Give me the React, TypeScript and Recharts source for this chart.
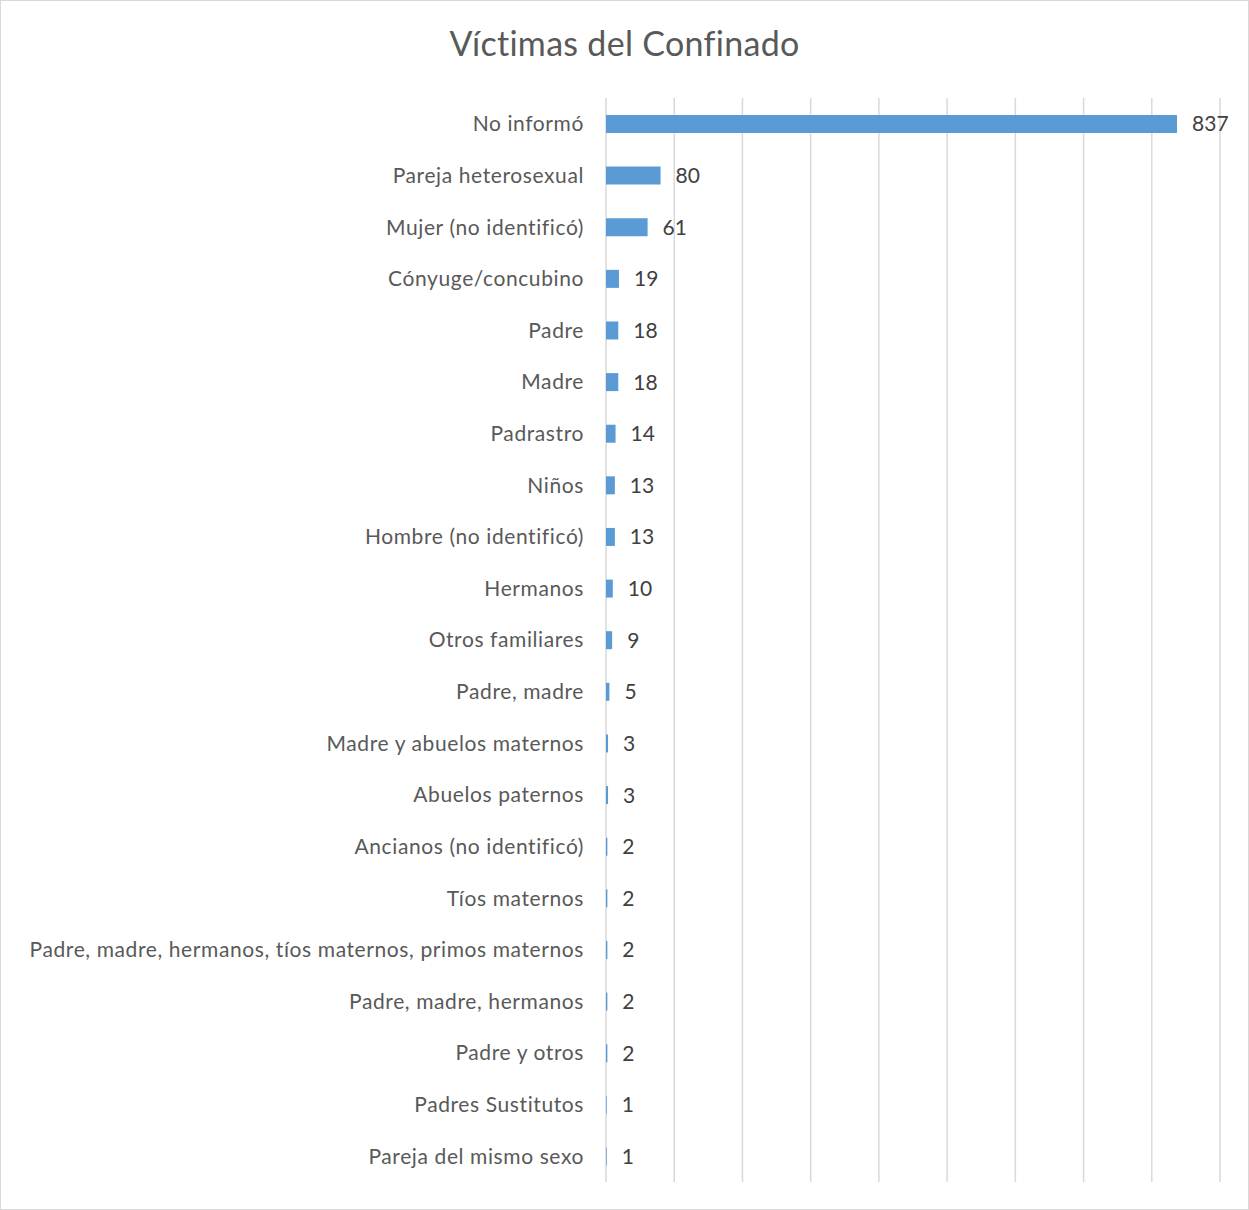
import { BarChart, Bar, XAxis, YAxis, CartesianGrid, LabelList } from 'recharts'

const categories = [
  'No informó',
  'Pareja heterosexual',
  'Mujer (no identificó)',
  'Cónyuge/concubino',
  'Padre',
  'Madre',
  'Padrastro ',
  'Niños',
  'Hombre (no identificó)',
  'Hermanos',
  'Otros familiares',
  'Padre, madre',
  'Madre y abuelos maternos',
  'Abuelos paternos',
  'Ancianos (no identificó)',
  'Tíos maternos',
  'Padre, madre, hermanos, tíos maternos, primos maternos',
  'Padre, madre, hermanos',
  'Padre y otros',
  'Padres Sustitutos',
  'Pareja del mismo sexo',
]

const victimas = [837, 80, 61, 19, 18, 18, 14, 13, 13, 10, 9, 5, 3, 3, 2, 2, 2, 2, 2, 1, 1]

const xTicks = [0, 100, 200, 300, 400, 500, 600, 700, 800, 900]

const data = categories.map((name, i) => ({ name, value: victimas[i] }))

const font = 'Lato, "Open Sans", sans-serif'

export default function App() {
  return (
    <div
      style={{
        position: 'absolute',
        left: 0,
        top: 0,
        width: 1247,
        height: 1208,
        border: '1px solid #d9d9d9',
        background: '#fff',
        fontFamily: font,
      }}
    >
      <div
        style={{
          position: 'absolute',
          top: 21,
          left: 0,
          width: '100%',
          textAlign: 'center',
          fontSize: 34,
          letterSpacing: 0.3,
          color: '#595959',
        }}
      >
        Víctimas del Confinado
      </div>
      <BarChart
        width={1247}
        height={1208}
        data={data}
        layout="vertical"
        margin={{ top: 97, right: 28, bottom: 27, left: 0 }}
      >
        <CartesianGrid horizontal={false} stroke="#d9d9d9" strokeWidth={1.5} />
        <XAxis type="number" domain={[0, 900]} ticks={xTicks} hide />
        <YAxis
          type="category"
          dataKey="name"
          width={605}
          axisLine={false}
          tickLine={false}
          tickSize={0}
          tickMargin={22}
          interval={0}
          tick={{ fill: '#595959', fontSize: 21, fontFamily: font, letterSpacing: 0.6 }}
        />
        <Bar dataKey="value" fill="#5B9BD5" barSize={18} isAnimationActive={false}>
          <LabelList
            dataKey="value"
            position="right"
            offset={15}
            fill="#404040"
            fontSize={21}
            fontFamily={font}
          />
        </Bar>
      </BarChart>
    </div>
  )
}
